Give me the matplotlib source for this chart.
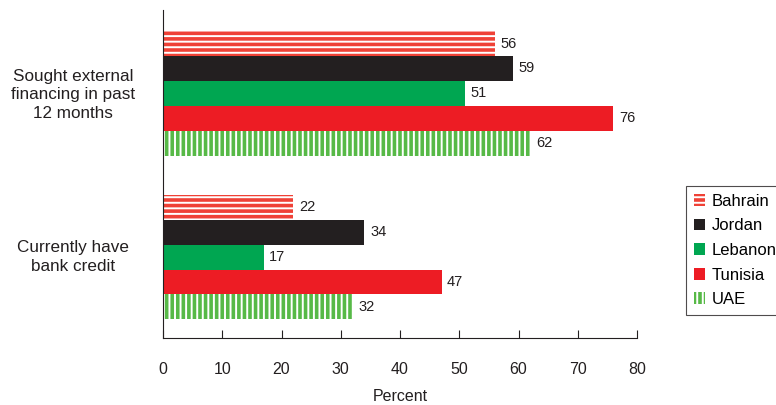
import numpy as np
import matplotlib.pyplot as plt
import matplotlib.transforms as mtransforms

plt.rcParams['font.family'] = ['Liberation Sans', 'DejaVu Sans']
plt.rcParams['hatch.linewidth'] = 1.4

categories = ["Sought external\nfinancing in past\n12 months", "Currently have\nbank credit"]
countries = ["Bahrain", "Jordan", "Lebanon", "Tunisia", "UAE"]
bahrain = [56, 22]
jordan = [59, 34]
lebanon = [51, 17]
tunisia = [76, 47]
uae = [62, 32]

series = [bahrain, jordan, lebanon, tunisia, uae]
colors = ["#EF4136", "#231F20", "#00A651", "#ED1C24", "#57B947"]
hatches = ["---", None, None, None, "|||"]

fig = plt.figure(figsize=(7.76, 4.05), dpi=100)
ax = fig.add_axes([0.2101, 0.1654, 0.6108, 0.8099])

h = 0.152
ypos = np.arange(len(categories))
for i, (name, vals) in enumerate(zip(countries, series)):
    y = ypos + (i - 2) * h
    if hatches[i]:
        bars = ax.barh(y, vals, height=h, color=colors[i], edgecolor="white",
                       linewidth=0, hatch=hatches[i], label=name)
    else:
        bars = ax.barh(y, vals, height=h, color=colors[i], linewidth=0, label=name)
    ax.bar_label(bars, padding=4, fontsize=10.5, color="#231F20")

ax.set_xlim(0, 80)
ax.set_ylim(1.494, -0.509)
ax.set_xticks(np.arange(0, 81, 10))
ax.set_yticks([])
ax.tick_params(axis="x", direction="in", length=6, pad=17, labelsize=11.5,
               colors="#231F20")
for s in ["top", "right"]:
    ax.spines[s].set_visible(False)
for s in ["left", "bottom"]:
    ax.spines[s].set_color("#231F20")
ax.set_xlabel("Percent", fontsize=11.5, labelpad=9, color="#231F20")

# category labels centred to the left of the axis
trans = mtransforms.blended_transform_factory(ax.transAxes, ax.transData)
for yv, cat in zip([0.01, 1.0], categories):
    ax.text(-0.19, yv, cat, transform=trans, ha="center", va="center",
            multialignment="center", fontsize=12.3, color="#231F20", linespacing=1.3)

leg = fig.legend(loc="upper left", bbox_to_anchor=(686 / 776, 1 - 186 / 405),
                 fontsize=12, frameon=True, fancybox=False, handlelength=0.7,
                 handleheight=0.7, handletextpad=0.4, labelspacing=0.58,
                 borderpad=0.45, borderaxespad=0)
leg.get_frame().set_edgecolor("#231F20")
leg.get_frame().set_linewidth(0.8)

plt.savefig("out.png", dpi=100)
